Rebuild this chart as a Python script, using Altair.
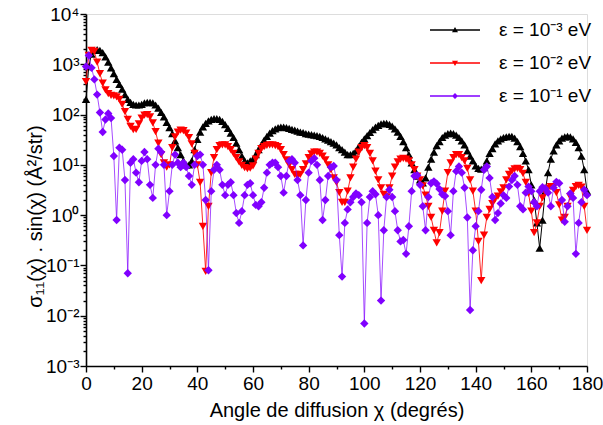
import json
import altair as alt
import pandas as pd

# ---------------- data ----------------
angles = list(range(0, 181))

sigma_e3 = [200, 900, 1600, 1900, 1950, 1900, 1700, 1400, 1100, 850,
            650, 500, 400, 320, 250, 200, 175, 160, 155, 155,
            160, 170, 175, 175, 170, 155, 135, 110, 90, 70,
            55, 42, 30, 22, 16, 12, 10, 10, 12, 20,
            32, 45, 57, 67, 75, 80, 83, 83, 80, 73,
            63, 53, 43, 35, 27, 20, 15, 12, 11, 12,
            13, 16, 20, 25, 31, 37, 43, 48, 52, 55,
            56, 56, 55, 53, 51, 49, 47, 45, 44, 42,
            41, 40, 39, 38, 37, 35, 33, 31, 29, 27,
            25, 22, 20, 18, 16, 16, 17, 19, 23, 28,
            33, 38, 44, 50, 56, 61, 65, 67, 67, 64,
            59, 52, 45, 37, 29, 22, 16, 11, 8, 6,
            5, 4.4, 5.5, 9, 13, 18, 24, 29, 35, 39,
            42, 43, 42, 39, 35, 30, 25, 19, 15, 12,
            9.5, 8.5, 8.2, 8.8, 12, 17, 21, 26, 30, 33,
            35, 36, 37, 37, 34, 29, 23, 17, 12, 8,
            4, 2, 0.7, 0.22, 0.8, 3, 7, 13, 19, 25,
            30, 34, 36, 37, 36, 33, 28, 22, 15, 8,
            3]

sigma_e2 = [450, 1500, 1900, 1800, 1100, 650, 420, 310, 260, 240,
            235, 225, 200, 160, 115, 80, 58, 50, 51, 65,
            85, 98, 100, 90, 68, 46, 27, 16, 11, 9,
            10, 22, 36, 45, 49, 48, 43, 35, 26, 17,
            10, 4.5, 0.6, 0.076, 1.5, 7, 14, 20, 24, 25,
            25, 23, 20, 17, 14, 11.5, 9.8, 8.8, 8.4, 8.6,
            9.5, 13, 17, 21, 23, 24.5, 25, 25, 24, 23,
            20, 16, 12.5, 10, 8, 6.5, 5.9, 6.5, 8, 10.5,
            14, 16.5, 18, 18, 17, 15, 12.5, 10, 8, 5.5,
            4.5, 2.8, 1.8, 1.8, 3, 5.5, 9, 13, 18, 22,
            24, 22, 17, 12, 7.5, 5, 3.5, 2.6, 2.3, 3.5,
            6, 9, 11.5, 13, 13.5, 13, 12, 10, 8, 6,
            5, 3.8, 2.5, 1.5, 0.9, 0.5, 0.28, 0.45, 1.2, 3,
            7, 11, 14, 16, 16, 14, 12, 8.5, 5, 3,
            1.2, 0.3, 0.05, 0.4, 0.9, 1.3, 1.7, 2.1, 2.4, 2.9,
            3.5, 5, 6.5, 7.5, 8.3, 8.5, 8, 6.8, 4.5, 2.7,
            1.2, 0.45, 0.7, 1.5, 2.2, 2.8, 3.4, 3.7, 3.6, 2.8,
            1.6, 0.8, 0.9, 1.5, 2.3, 3.1, 3.7, 3.9, 3.6, 1.5,
            0.5]

sigma_e1 = [900, 1500, 850, 500, 250, 110, 45, 80, 105, 85,
            15, 0.8, 22, 20, 5, 0.07, 11, 13, 7, 4.5,
            12, 18, 13, 4, 2.2, 10, 21, 18, 10, 1.0,
            3, 10, 16, 11, 9, 11, 9, 6, 4, 10,
            15, 16, 10, 2, 0.08, 3, 8, 10, 8, 4,
            2.5, 4, 4.5, 2.5, 1.1, 0.7, 1.2, 2.5, 4, 4.3,
            2.5, 1.6, 1.5, 1.8, 3.5, 7, 10, 11, 11, 9,
            6, 2.8, 6, 12, 13, 11, 5, 2.5, 0.25, 2,
            7, 12, 13.5, 10, 5, 0.8, 2, 6, 9, 9.5,
            5, 0.4, 0.06, 0.7, 1.3, 1.8, 2.3, 2.7, 2.5, 1.8,
            0.007, 0.7, 2.3, 3, 2.6, 1, 0.02, 0.5, 2.3, 3.2,
            2.3, 1.2, 0.5, 0.3, 0.32, 0.17, 0.6, 3, 6, 6.2,
            4, 1.5, 0.5, 2.3, 4.3, 4.7, 4.2, 3.3, 2.6, 2.4,
            1.2, 0.4, 3, 7.5, 9.3, 7, 3.5, 0.9, 0.013, 0.2,
            0.6, 1.2, 3.2, 8, 9.3, 5.5, 2.3, 0.8, 1.1, 1.7,
            2.5, 2.2, 3.7, 5, 6, 4, 1.5, 1.3, 2.8, 3.7,
            3, 1.8, 1.5, 3, 3.6, 3.4, 2.8, 1.5, 3.5, 4.6,
            4.3, 2, 0.74, 1.5, 2.7, 2.2, 0.17, 0.7, 1.8, 3.2,
            2.5]

series_names = ["ε = 10⁻³ eV", "ε = 10⁻² eV", "ε = 10⁻¹ eV"]
series_values = [sigma_e3, sigma_e2, sigma_e1]

x_tick_values = list(range(0, 181, 10))
y_decades = [-3, -2, -1, 0, 1, 2, 3, 4]
y_tick_labels = ["10⁻³", "10⁻²", "10⁻¹", "10⁰", "10¹", "10²", "10³", "10⁴"]

# ---------------- styles ----------------
colors = ["#000000", "#ff0000", "#8000ff"]
shapes = ["triangle-up", "triangle-down", "diamond"]
marker_sizes = [70, 70, 70]
line_opac = [1.0, 0.85, 0.7]
legend_paths = [
    "M-2.5,-0.065L2.5,-0.065L2.5,0.065L-2.5,0.065Z M0,-0.3L0.3,0.22L-0.3,0.22Z",
    "M-2.5,-0.065L2.5,-0.065L2.5,0.065L-2.5,0.065Z M0,0.3L-0.3,-0.22L0.3,-0.22Z",
    "M-2.5,-0.065L2.5,-0.065L2.5,0.065L-2.5,0.065Z M0,-0.3L0.3,0L0,0.3L-0.3,0Z",
]
FONT = "Liberation Sans"

rows = []
for name, vals in zip(series_names, series_values):
    for a, v in zip(angles, vals):
        rows.append({"angle": a, "value": v, "series": name})
df = pd.DataFrame(rows)

y_tick_values = []
for d in y_decades:
    for m in range(1, 10):
        if d == y_decades[-1] and m > 1:
            break
        y_tick_values.append(m * 10.0 ** d)

dec_test = "abs(log(datum.value)/LN10 - round(log(datum.value)/LN10)) < 0.01"
y_label_expr = (f"{dec_test} ? {json.dumps(y_tick_labels, ensure_ascii=False)}"
                f"[round(log(datum.value)/LN10) + 3] : ''")

x_axis = alt.Axis(
    values=x_tick_values,
    labelExpr="datum.value % 20 == 0 ? datum.label : ''",
    tickSize={"condition": {"test": "datum.value % 20 == 0", "value": 6}, "value": 3},
    grid=False, domainColor="black", domainWidth=1.6,
    tickColor="black", tickWidth=1.4,
    labelFont=FONT, labelFontSize=19, labelColor="black", labelPadding=2,
    labelFlush=False, labelOverlap=False,
    titleFont=FONT, titleFontSize=20, titleFontWeight="normal", titleColor="black",
    titleY=44, titleBaseline="middle",
)
y_axis = alt.Axis(
    values=y_tick_values,
    labelExpr=y_label_expr,
    tickSize={"condition": {"test": dec_test, "value": 6}, "value": 3},
    grid=False, domainColor="black", domainWidth=1.6,
    tickColor="black", tickWidth=1.4,
    labelFont=FONT, labelFontSize=19, labelColor="black", labelPadding=1,
    labelFlush=False, labelOverlap=False,
    titleFont=FONT, titleFontSize=20, titleFontWeight="normal", titleColor="black",
    titleX=-51, titleY=202, titleBaseline="middle", titleAlign="center",
)

x_enc = alt.X("angle:Q", scale=alt.Scale(domain=[0, 180], nice=False), axis=x_axis,
              title="Angle de diffusion χ (degrés)")
y_enc = alt.Y("value:Q", scale=alt.Scale(type="log", domain=[1e-3, 1e4], nice=False),
              axis=y_axis, title="σ₁₁(χ) . sin(χ)  (Å²/str)")

layers = []
for name, c, s, ms, lo in zip(series_names, colors, shapes, marker_sizes, line_opac):
    base = alt.Chart(df).transform_filter(alt.datum.series == name)
    layers.append(base.mark_line(color=c, strokeWidth=1, opacity=lo).encode(x=x_enc, y=y_enc))
    layers.append(base.mark_point(filled=True, shape=s, size=ms, color=c, opacity=1)
                  .encode(x=x_enc, y=y_enc))

leg = alt.Legend(title=None, orient="none", legendX=359, legendY=6,
                 symbolSize=400, symbolStrokeWidth=0, symbolOffset=0,
                 labelFont=FONT, labelFontSize=19, labelColor="black",
                 labelOffset=34, rowPadding=13, padding=0)
legend_layer = (
    alt.Chart(df).transform_filter("false")
    .mark_point(filled=True, opacity=1)
    .encode(
        x=x_enc, y=y_enc,
        color=alt.Color("series:N", scale=alt.Scale(domain=series_names, range=colors), legend=leg),
        shape=alt.Shape("series:N", scale=alt.Scale(domain=series_names, range=legend_paths), legend=leg),
    )
)
layers.append(legend_layer)

chart = (
    alt.layer(*layers)
    .properties(width=501, height=352,
                autosize=alt.AutoSizeParams(type="none"),
                padding={"left": 86, "top": 14, "right": 16, "bottom": 59})
    .configure_view(stroke=None)
    .configure(font=FONT, background="white")
)

chart.save("out.html", embed_options={"renderer": "svg", "actions": False})
